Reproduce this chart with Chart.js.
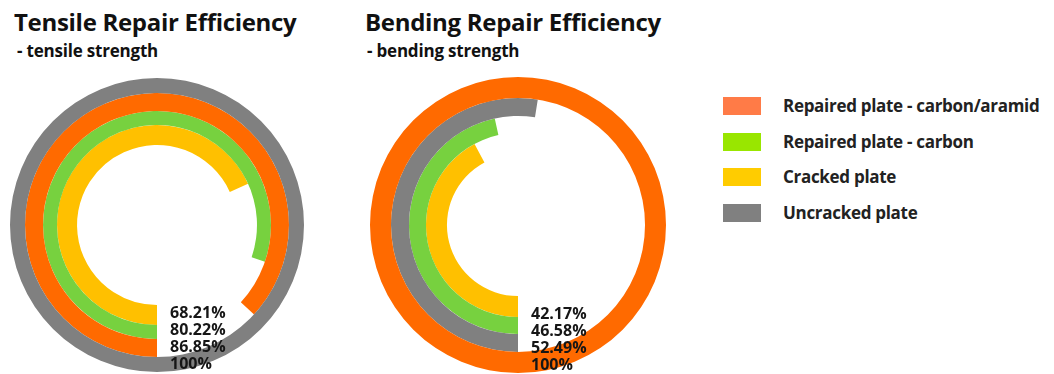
<!DOCTYPE html>
<html>
<head>
<meta charset="utf-8">
<script src="https://cdn.jsdelivr.net/npm/chart.js@4"></script>
<style>
  html, body { margin: 0; padding: 0; background: #fff; }
  body { width: 1054px; height: 374px; position: relative; overflow: hidden; font-family: "Open Sans", sans-serif; color: #111; }
  .title { position: absolute; font-weight: 700; font-size: 24px; letter-spacing: -0.3px; line-height: 1; }
  .sub { position: absolute; font-weight: 700; font-size: 17px; letter-spacing: -0.2px; line-height: 1; }
  canvas { position: absolute; }
  #legend { position: absolute; left: 723px; top: 97px; }
  .item { position: relative; height: 35.5px; }
  .box { position: absolute; left: 0; top: 0; width: 38px; height: 18px; }
  .lbl { position: absolute; left: 60px; top: -3px; font-weight: 700; font-size: 17px; letter-spacing: -0.3px; white-space: nowrap; color: #222; }
</style>
</head>
<body>
<div class="title" style="left:14px; top:10px;">Tensile Repair Efficiency</div>
<div class="sub" style="left:17px; top:42px;">- tensile strength</div>
<div class="title" style="left:365px; top:10px;">Bending Repair Efficiency</div>
<div class="sub" style="left:367px; top:42px;">- bending strength</div>

<canvas id="tensile" width="294" height="294" style="left:10px; top:78px;"></canvas>
<canvas id="bending" width="296" height="296" style="left:370px; top:77px;"></canvas>
<div id="legend"></div>

<script>
// legend entries
const seriesNames = ["Repaired plate - carbon/aramid", "Repaired plate - carbon", "Cracked plate", "Uncracked plate"];
const legendColors = ["#ff7b47", "#99e600", "#ffcc00", "#808080"];

// ring colours per series (same order as seriesNames)
const ringColors = ["#ff6a00", "#77d13f", "#ffc000", "#808080"];

// tensile strength, % of uncracked plate (outer ring first)
const tensileSeries = [3, 0, 1, 2];
const tensileValues = [100, 86.85, 80.22, 68.21];
const tensileWeights = [15, 18, 14, 20];

// bending strength (outer ring first)
const bendingSeries = [0, 3, 1, 2];
const bendingValues = [100, 52.49, 46.58, 42.17];
const bendingWeights = [21, 18, 17, 21];

// legend
const legend = document.getElementById("legend");
seriesNames.forEach((name, i) => {
  const item = document.createElement("div");
  item.className = "item";
  item.innerHTML = '<div class="box" style="background:' + legendColors[i] + '"></div><div class="lbl">' + name + '</div>';
  legend.appendChild(item);
});

/* stacked percentage labels below the centre, innermost ring on top */
const ringLabels = {
  id: 'ringLabels',
  afterDraw(chart) {
    const {ctx} = chart;
    const arc = chart.getDatasetMeta(0).data[0];
    const cx = arc.x, cy = arc.y;
    const n = chart.data.datasets.length;
    ctx.save();
    ctx.font = "bold 16px 'Open Sans'";
    ctx.fillStyle = "#161616";
    ctx.textBaseline = "middle";
    ctx.textAlign = "left";
    for (let k = 0; k < n; k++) {
      const ds = chart.data.datasets[n - 1 - k];
      const y = cy + arc.outerRadius - 8 - (n - 1 - k) * 17;
      ctx.fillText(ds.data[0] + "%", cx + 13, y);
    }
    ctx.restore();
  }
};

function ringChart(id, seriesIdx, values, weights, cutout) {
  new Chart(document.getElementById(id), {
    type: "doughnut",
    data: {
      labels: ["value", "rest"],
      datasets: values.map((v, i) => ({
        data: [v, +(100 - v).toFixed(2)],
        backgroundColor: [ringColors[seriesIdx[i]], "rgba(0,0,0,0)"],
        borderWidth: 0,
        weight: weights[i]
      }))
    },
    options: {
      responsive: false,
      animation: false,
      rotation: 180,
      circumference: 360,
      cutout: cutout,
      hoverOffset: 0,
      layout: { padding: 0 },
      plugins: {
        legend: { display: false },
        tooltip: { enabled: false }
      }
    },
    plugins: [ringLabels]
  });
}

ringChart("tensile", tensileSeries, tensileValues, tensileWeights, "54.4%");
ringChart("bending", bendingSeries, bendingValues, bendingWeights, "48%");
</script>
</body>
</html>
